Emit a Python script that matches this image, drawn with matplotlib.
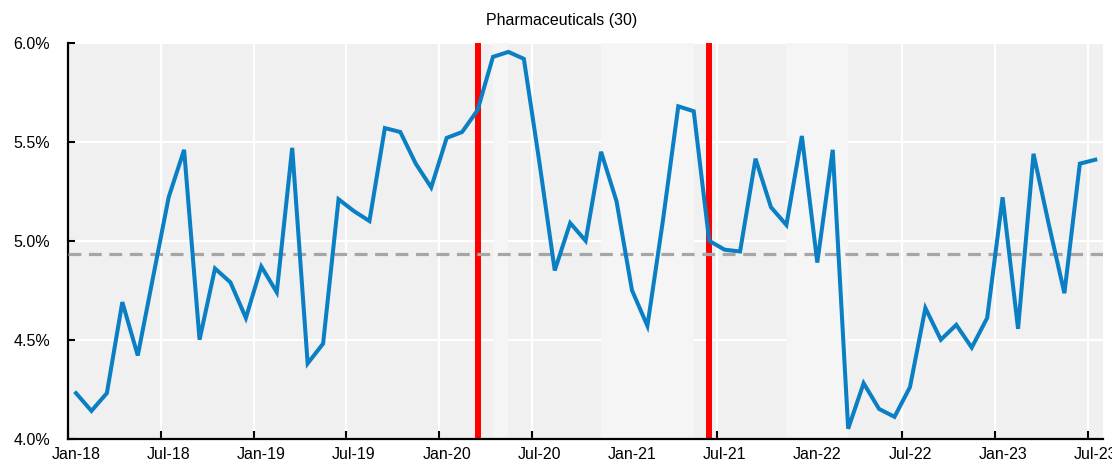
import numpy as np
import matplotlib.pyplot as plt
from matplotlib.ticker import FixedLocator, FuncFormatter

plt.rcParams['font.family'] = ['Liberation Sans', 'DejaVu Sans']

# monthly values, Jan-18 .. Jul-23 (percent)
values = [4.23, 4.14, 4.23, 4.69, 4.42, 4.82, 5.22, 5.46, 4.50, 4.86,
          4.79, 4.61, 4.87, 4.74, 5.47, 4.38, 4.48, 5.21, 5.15, 5.10,
          5.57, 5.55, 5.39, 5.27, 5.52, 5.55, 5.66, 5.93, 5.955, 5.92,
          5.40, 4.85, 5.09, 5.00, 5.45, 5.20, 4.75, 4.57, 5.10, 5.68,
          5.655, 5.00, 4.955, 4.946, 5.415, 5.17, 5.08, 5.53, 4.89, 5.46,
          4.05, 4.28, 4.15, 4.11, 4.26, 4.66, 4.50, 4.575, 4.46, 4.61,
          5.22, 4.555, 5.44, 5.08, 4.735, 5.39, 5.41]
avg_value = 4.935
tick_labels = ['Jan-18', 'Jul-18', 'Jan-19', 'Jul-19', 'Jan-20', 'Jul-20',
               'Jan-21', 'Jul-21', 'Jan-22', 'Jul-22', 'Jan-23', 'Jul-23']
# lighter shaded periods (month index start, end) and event markers
bands = [(27.5, 28.5), (34.5, 40.5), (46.5, 50.5)]
events = [26.5, 41.5]
title = 'Pharmaceuticals (30)'

x = np.arange(len(values)) + 0.5

fig = plt.figure(figsize=(11.12, 4.63), dpi=100)
ax = fig.add_axes([0.0614, 0.0527, 0.9305, 0.8544])
ax.set_facecolor('#f0f0f0')

# gridlines below everything
ax.set_axisbelow(True)
ax.grid(True, color='white', linewidth=1.6)

for b0, b1 in bands:
    ax.axvspan(b0, b1, color='#f5f5f5', linewidth=0, zorder=1)
for e in events:
    ax.axvline(e, color='#ff0000', linewidth=4.3, zorder=2)

ax.axhline(avg_value, color='#a6a6a6', linewidth=2.3, dashes=(4, 2.4), zorder=3)
ax.plot(x, values, color='#0a7fc4', linewidth=2.9, zorder=4, solid_joinstyle='miter')

ax.set_xlim(0, 67)
ax.set_ylim(4.0, 6.0)

# major ticks on month boundaries, labels centred on the month
ax.xaxis.set_major_locator(FixedLocator(np.arange(0, 67, 6)))
ax.xaxis.set_minor_locator(FixedLocator(np.arange(0, 67, 6) + 0.5))
ax.set_xticklabels([], minor=False)
ax.set_xticklabels(tick_labels, minor=True)
ax.tick_params(axis='x', which='major', direction='in', length=6, width=1.5)
ax.tick_params(axis='x', which='minor', length=0, pad=6, labelsize=11.5)
ax.grid(False, which='minor')

ax.set_yticks([4.0, 4.5, 5.0, 5.5, 6.0])
ax.yaxis.set_major_formatter(FuncFormatter(lambda v, p: '%.1f%%' % v))
ax.tick_params(axis='y', direction='in', length=5, width=1.5, pad=13, labelsize=11.5)

for s in ['top', 'right']:
    ax.spines[s].set_visible(False)
for s in ['left', 'bottom']:
    ax.spines[s].set_linewidth(1.6)

# title is centred on the figure, not the axes
fig.text(0.505, 0.955, title, fontsize=11.5, ha='center', va='center')

plt.savefig('out.png', dpi=100)
